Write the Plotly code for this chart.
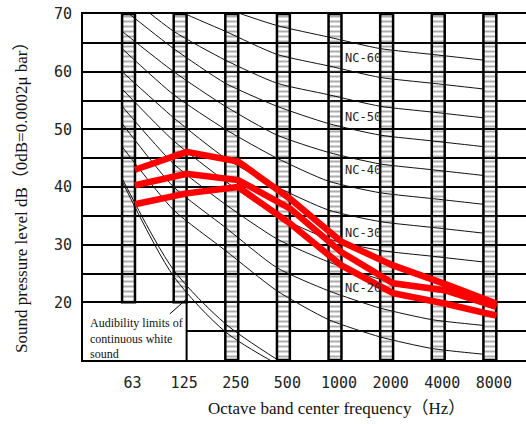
import plotly.graph_objects as go

# octave bands
bands = ["63", "125", "250", "500", "1000", "2000", "4000", "8000"]
band_idx = list(range(len(bands)))
y_ticks = [20, 30, 40, 50, 60, 70]
y_minor = [15, 25, 35, 45, 55, 65]

# NC curves (dB per octave band)
nc15 = [47, 36, 29, 22, 17, 14, 12, 11]
nc20 = [51, 40, 33, 26, 22, 19, 17, 16]
nc25 = [54, 44, 37, 31, 27, 24, 22, 21]
nc30 = [57, 48, 41, 35, 31, 29, 28, 27]
nc35 = [60, 52, 45, 40, 36, 34, 33, 32]
nc40 = [64, 56, 50, 45, 41, 39, 38, 37]
nc45 = [67, 60, 54, 49, 46, 44, 43, 42]
nc50 = [71, 64, 58, 54, 51, 49, 48, 47]
nc55 = [74, 67, 62, 58, 56, 54, 53, 52]
nc60 = [77, 71, 67, 63, 61, 59, 58, 57]
nc65 = [80, 75, 71, 68, 66, 64, 63, 62]

nc_labels = ["NC-60", "NC-50", "NC-40", "NC-30", "NC-20"]
nc_label_db = [62.4, 52.1, 42.9, 32.0, 22.4]

# measured noise (red band)
red_upper = [43.0, 46.1, 44.4, 38.0, 30.5, 26.4, 23.2, 19.8]
red_middle = [40.3, 42.3, 41.2, 36.3, 28.7, 23.3, 22.1, 19.2]
red_lower = [37.0, 38.9, 40.0, 33.7, 26.4, 21.6, 19.8, 17.7]

# audibility limits of continuous white sound (63..500)
aud_inner = [41.0, 24.5, 14.9, 9.3]
aud_outer = [41.5, 25.6, 16.3, 10.1]

bar_base = [20, 20, 10, 10, 10, 10, 10, 10]
bar_w = 0.25
y_lo, y_hi = 10, 70
x_range = [-0.882, 7.70]

left_x = [i - bar_w / 2 for i in band_idx]
right_x = [i + bar_w / 2 for i in band_idx]

fig = go.Figure()

# hatched band columns
fig.add_trace(go.Bar(
    x=band_idx,
    y=[y_hi - b for b in bar_base],
    base=bar_base,
    width=bar_w,
    marker={
        "color": "rgba(0,0,0,0)",
        "line": {"color": "black", "width": 2.5},
        "pattern": {
            "shape": "-",
            "size": 5,
            "solidity": 0.4,
            "fgcolor": "#5a5a5a",
            "bgcolor": "rgba(0,0,0,0)",
        },
    },
    hoverinfo="skip",
))

for vals in [nc15, nc20, nc25, nc30, nc35, nc40, nc45, nc50, nc55, nc60, nc65]:
    fig.add_trace(go.Scatter(
        x=left_x,
        y=vals,
        mode="lines",
        line={"color": "#111111", "width": 1, "shape": "spline", "smoothing": 0.6},
    ))

for vals in [aud_inner, aud_outer]:
    fig.add_trace(go.Scatter(
        x=left_x[:len(vals)],
        y=vals,
        mode="lines",
        line={"color": "#111111", "width": 1, "shape": "spline", "smoothing": 0.8},
    ))

for vals in [red_upper, red_middle, red_lower]:
    fig.add_trace(go.Scatter(
        x=right_x,
        y=vals,
        mode="lines",
        line={"color": "#ff0000", "width": 6.5},
    ))

# white box for the audibility note
fig.add_shape(type="rect", xref="x", yref="y",
              x0=x_range[0], x1=1 + bar_w / 2, y0=y_lo, y1=19.85,
              fillcolor="white", line_width=0, layer="between")
fig.add_shape(type="line", xref="x", yref="y",
              x0=1 + bar_w / 2, x1=1 + bar_w / 2, y0=y_lo, y1=20,
              line={"color": "black", "width": 2})
fig.add_shape(type="line", xref="x", yref="y",
              x0=0.8, x1=1.13, y0=18.0, y1=20.6,
              line={"color": "black", "width": 1})

fig.add_annotation(
    x=-0.78, y=13.8, xref="x", yref="y",
    text="Audibility limits of<br>continuous white<br>sound",
    showarrow=False, xanchor="left", align="left",
    font={"family": "Liberation Serif", "size": 12, "color": "#111"},
)

for lab, db in zip(nc_labels, nc_label_db):
    fig.add_annotation(
        x=4.15, y=db, xref="x", yref="y", text=lab,
        showarrow=False, xanchor="left",
        font={"family": "DejaVu Sans Mono", "size": 12, "color": "#222"},
    )

fig.add_annotation(
    x=0.573, y=-0.1416, xref="paper", yref="paper",
    text="Octave band center frequency（Hz）",
    showarrow=False, xanchor="center", yanchor="middle",
    font={"family": "Liberation Serif, Noto Sans CJK SC", "size": 17, "color": "#111"},
)
fig.add_annotation(
    x=-0.1377, y=0.4827, xref="paper", yref="paper",
    text="Sound pressure level dB（0dB=0.0002μ bar）",
    textangle=-90, showarrow=False, xanchor="center", yanchor="middle",
    font={"family": "Liberation Serif, Noto Sans CJK SC", "size": 17, "color": "#111"},
)

fig.update_layout(
    width=526,
    height=424,
    margin={"t": 14, "b": 64, "l": 83, "r": 0},
    paper_bgcolor="white",
    plot_bgcolor="white",
    showlegend=False,
    xaxis={
        "range": x_range,
        "tickvals": band_idx,
        "ticktext": bands,
        "showgrid": False,
        "zeroline": False,
        "showline": True,
        "linecolor": "black",
        "linewidth": 2,
        "mirror": True,
        "ticks": "",
        "automargin": False,
        "ticklabelstandoff": 8,
        "ticklabelshift": 4,
        "tickfont": {"family": "DejaVu Sans Mono", "size": 15, "color": "#222"},
    },
    yaxis={
        "range": [y_lo, y_hi],
        "tickvals": y_ticks,
        "showgrid": True,
        "gridcolor": "black",
        "gridwidth": 1.5,
        "minor": {"tickvals": y_minor, "showgrid": True,
                  "gridcolor": "black", "gridwidth": 1.5},
        "zeroline": False,
        "showline": True,
        "linecolor": "black",
        "linewidth": 2,
        "ticks": "",
        "automargin": False,
        "ticklabelstandoff": 6,
        "tickfont": {"family": "DejaVu Sans Mono", "size": 15, "color": "#222"},
    },
)

# page body margin would shift the figure by 8px
fig.write_html(
    "out.html",
    config={"displayModeBar": False},
    post_script="document.body.style.margin='0';",
)
